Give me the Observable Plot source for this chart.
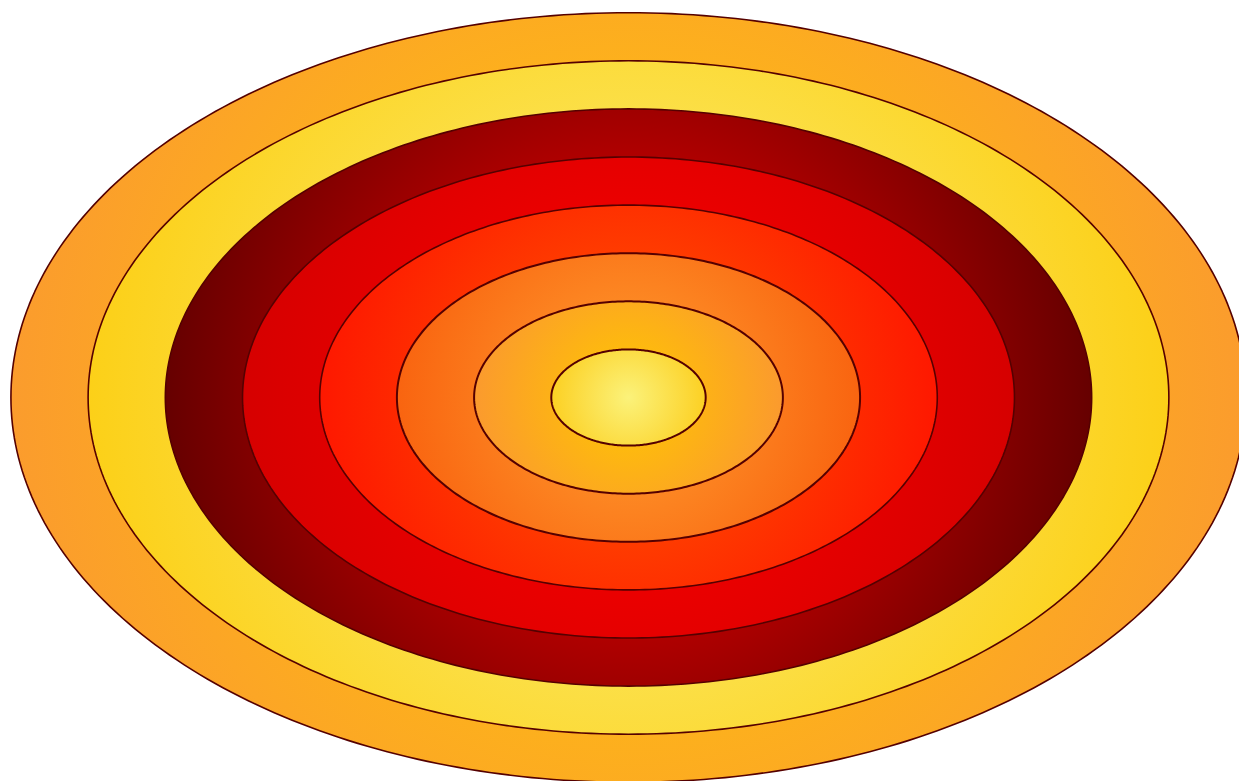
<!DOCTYPE html>
<html><head><meta charset="utf-8">
<script src="https://cdn.jsdelivr.net/npm/d3@7"></script>
<script src="https://cdn.jsdelivr.net/npm/@observablehq/plot@0.6"></script>
<style>html,body{margin:0;padding:0;background:#fff;overflow:hidden}</style>
</head><body><div id="chart"></div>
<script>
// ring levels (radius in data units), from innermost to outermost
const rings = [1, 2, 3, 4, 5, 6, 7, 8];
// gradient colour at the centre and at each ring's outer radius
const centerColors = ["#fbf27a", "#ffc800", "#ffa030", "#ff5a00", "#ff0000", "#ff0000", "#fbf07a", "#ffc80a"];
const edgeColors   = ["#fcd023", "#fb9a2e", "#f96410", "#fe1800", "#d60000", "#660000", "#fcd018", "#fb9c2d"];

// closed outline of each ring (a circle in data space, an ellipse on screen)
const angles = d3.range(0, 360, 1);
const outline = k => angles.map(a => ({ring: k, x: k * Math.cos(a * Math.PI / 180), y: k * Math.sin(a * Math.PI / 180)}));

const defsMark = (index, scales) => {
  const defs = d3.create("svg:defs");
  const cx = scales.x(0), cy = scales.y(0);
  rings.forEach((k, i) => {
    const g = defs.append("radialGradient")
      .attr("id", "g" + k)
      .attr("gradientUnits", "userSpaceOnUse")
      .attr("cx", cx).attr("cy", cy)
      .attr("r", scales.x(k) - cx);
    g.append("stop").attr("offset", 0).attr("stop-color", centerColors[i]);
    g.append("stop").attr("offset", 1).attr("stop-color", edgeColors[i]);
  });
  return defs.node();
};

const chart = Plot.plot({
  width: 1239,
  height: 781,
  margin: 0,
  x: {domain: [-8.135, 7.915], axis: null},
  y: {domain: [-7.983, 8.254], axis: null},
  marks: [
    defsMark,
    ...rings.slice().reverse().map(k => Plot.line(outline(k), {
      x: "x", y: "y",
      curve: "linear-closed",
      fill: `url(#g${k})`,
      stroke: "#550000",
      strokeWidth: k <= 3 ? 2 : 1.6
    }))
  ]
});
document.getElementById("chart").append(chart);
</script>
</body></html>
